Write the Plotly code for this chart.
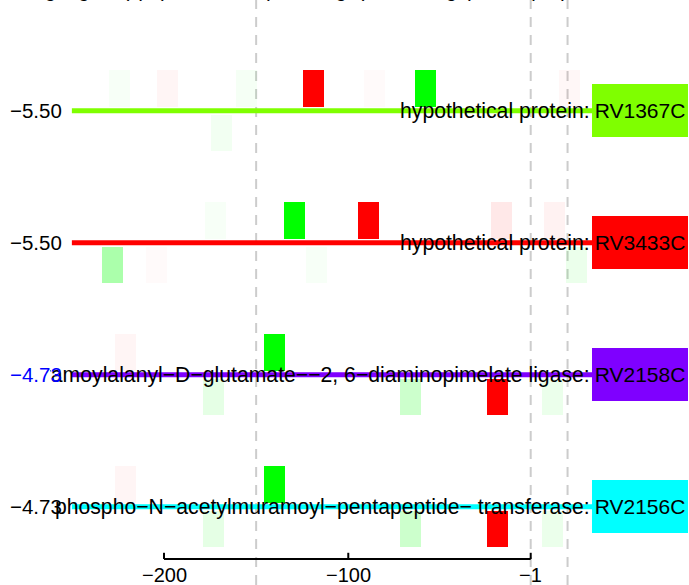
import plotly.graph_objects as go

# ---------------- data ----------------
genes = ["RV1367C", "RV3433C", "RV2158C", "RV2156C"]
descriptions = [
    "hypothetical protein:",
    "hypothetical protein:",
    "UDP\u2212N\u2212acetylmuramoylalanyl\u2212D\u2212glutamate\u2212\u22122, 6\u2212diaminopimelate ligase:",
    "phospho\u2212N\u2212acetylmuramoyl\u2212pentapeptide\u2212 transferase:",
]
scores = ["\u22125.50", "\u22125.50", "\u22124.73", "\u22124.73"]
score_colors = ["black", "black", "blue", "black"]
row_colors = ["#7FFF00", "#FF0000", "#7F00FF", "#00FFFF"]

# motif hits per gene: position, strand (+1 above / -1 below), sign (r/g), intensity
row1_pos = [-224, -198, -169, -155, -119, -86, -58, 20]
row1_dir = [1, 1, -1, 1, 1, 1, 1, 1]
row1_col = ["g", "r", "g", "g", "r", "r", "g", "r"]
row1_alpha = [0.03, 0.04, 0.05, 0.04, 1.0, 0.02, 1.0, 0.03]

row2_pos = [-228, -204, -172, -129, -117, -89, -17, 12, 24]
row2_dir = [-1, -1, 1, 1, -1, 1, 1, 1, -1]
row2_col = ["g", "r", "g", "g", "g", "r", "r", "r", "g"]
row2_alpha = [0.33, 0.02, 0.03, 1.0, 0.03, 1.0, 0.09, 0.05, 0.08]

row3_pos = [-221, -173, -140, -66, -19, 11]
row3_dir = [1, -1, 1, -1, -1, -1]
row3_col = ["r", "g", "g", "g", "r", "g"]
row3_alpha = [0.04, 0.10, 1.0, 0.20, 1.0, 0.08]

row4_pos = [-221, -173, -140, -66, -19, 11]
row4_dir = [1, -1, 1, -1, -1, -1]
row4_col = ["r", "g", "g", "g", "r", "g"]
row4_alpha = [0.04, 0.10, 1.0, 0.20, 1.0, 0.08]

rows = [
    (row1_pos, row1_dir, row1_col, row1_alpha),
    (row2_pos, row2_dir, row2_col, row2_alpha),
    (row3_pos, row3_dir, row3_col, row3_alpha),
    (row4_pos, row4_dir, row4_col, row4_alpha),
]

line_start, line_end = -250, 50
axis_ticks = [-200, -100, -1]
axis_labels = ["\u2212200", "\u2212100", "\u22121"]
vlines = [-150, -1, 19]

# ---------------- figure ----------------
FONT = "Liberation Sans, Arial, Helvetica, sans-serif"
fig = go.Figure()

n = len(genes)
row_y = [n - 1 - i for i in range(n)]
bar_gap, bar_h, bar_w = 0.03, 0.277, 11.4

rgb = {"r": "255,0,0", "g": "0,255,0"}

for i, (pos, dirs, cols, alphas) in enumerate(rows):
    y0 = row_y[i]
    # backbone line
    fig.add_trace(go.Scatter(
        x=[line_start, line_end], y=[y0, y0], mode="lines",
        line=dict(color=row_colors[i], width=5), hoverinfo="skip", showlegend=False))
    # motif bars
    fig.add_trace(go.Bar(
        x=pos,
        base=[y0 + d * bar_gap for d in dirs],
        y=[d * bar_h for d in dirs],
        width=bar_w,
        marker=dict(color=[f"rgba({rgb[c]},{a})" for c, a in zip(cols, alphas)],
                    line=dict(width=0)),
        hoverinfo="skip", showlegend=False))

# gene descriptions (clipped to the panel like the original)
fig.add_trace(go.Scatter(
    x=[31.0] * n, y=[y - 0.015 for y in row_y], mode="text",
    text=descriptions, textposition="middle left", cliponaxis=True,
    textfont=dict(family=FONT, size=21.2, color="black"),
    hoverinfo="skip", showlegend=False))

# bottom axis
ax_y = -0.396
tick_len = 0.047
fig.add_trace(go.Scatter(
    x=[axis_ticks[0], axis_ticks[-1]], y=[ax_y, ax_y], mode="lines",
    line=dict(color="black", width=2), hoverinfo="skip", showlegend=False))
tx, ty = [], []
for t in axis_ticks:
    tx += [t, t, None]
    ty += [ax_y, ax_y + tick_len, None]
fig.add_trace(go.Scatter(x=tx, y=ty, mode="lines",
                         line=dict(color="black", width=2),
                         hoverinfo="skip", showlegend=False))

annotations = []
for t, lab in zip(axis_ticks, axis_labels):
    annotations.append(dict(x=t, y=-0.515, xref="x", yref="y", text=lab,
                            showarrow=False, xanchor="center", yanchor="middle",
                            font=dict(family=FONT, size=20, color="black")))

for i in range(n):
    y0 = row_y[i]
    annotations.append(dict(x=-254.8, y=y0, xref="x", yref="y", text=scores[i],
                            showarrow=False, xanchor="right", yanchor="middle",
                            borderpad=0,
                            font=dict(family=FONT, size=20.5, color=score_colors[i])))
    annotations.append(dict(x=32.3, y=y0, xref="x", yref="y", text=genes[i],
                            showarrow=False, xanchor="left", yanchor="middle",
                            width=96, height=53, align="center", valign="middle",
                            bgcolor=row_colors[i], borderpad=0, borderwidth=0,
                            font=dict(family=FONT, size=21, color="black")))

# title (mostly cut off at the top of the image)
annotations.append(dict(x=-0.055, y=1, xref="paper", yref="paper",
                        text="Target gene(s): (motif, score)",
                        showarrow=False, xanchor="left", yanchor="bottom", yshift=-3,
                        font=dict(family=FONT, size=20, color="black")))
annotations.append(dict(x=0.42, y=1, xref="paper", yref="paper",
                        text="log2(fold change) = \u22125, p, q",
                        showarrow=False, xanchor="left", yanchor="bottom", yshift=-3,
                        font=dict(family=FONT, size=20, color="black")))

shapes = [dict(type="line", xref="x", yref="paper", x0=v, x1=v, y0=0, y1=1,
               line=dict(color="#cccccc", width=2, dash="10px,8px"), layer="below")
          for v in vlines]

fig.update_layout(
    width=689, height=585, autosize=False,
    margin=dict(l=50, r=0, t=0, b=0),
    paper_bgcolor="white", plot_bgcolor="white",
    barmode="overlay", bargap=0,
    xaxis=dict(range=[-261.87, 84.9], visible=False, fixedrange=True),
    yaxis=dict(range=[-0.593, 3.839], visible=False, fixedrange=True),
    annotations=annotations, shapes=shapes,
    showlegend=False,
)

fig.write_html("out.html", config={"displayModeBar": False},
               post_script="document.body.style.margin='0';document.body.style.overflow='hidden';")
